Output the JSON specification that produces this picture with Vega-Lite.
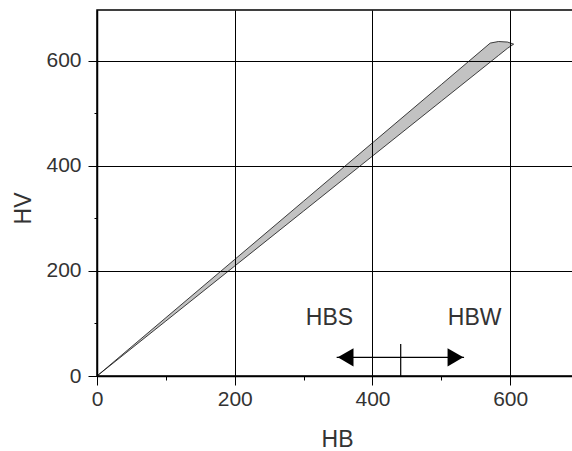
{
  "$schema": "https://vega.github.io/schema/vega-lite/v6.json",
  "width": 480,
  "height": 366,
  "autosize": "none",
  "padding": {"left": 97, "top": 10, "right": 0, "bottom": 75},
  "background": "white",
  "config": {
    "view": {"stroke": "#000", "strokeWidth": 1.5},
    "font": "Liberation Sans"
  },
  "datasets": {
    "band": [
      {"hb": 0, "upper": 0, "lower": 0},
      {"hb": 100, "upper": 111, "lower": 104.7},
      {"hb": 200, "upper": 222, "lower": 209.4},
      {"hb": 300, "upper": 333, "lower": 314.1},
      {"hb": 400, "upper": 444, "lower": 418.8},
      {"hb": 500, "upper": 555, "lower": 523.5},
      {"hb": 571, "upper": 634, "lower": 597.8},
      {"hb": 583, "upper": 637, "lower": 610.4},
      {"hb": 596, "upper": 636, "lower": 624},
      {"hb": 605, "upper": 632, "lower": 632}
    ],
    "arrow": [{"from": 348, "to": 533, "level": 35.6}],
    "marker": [{"at": 441, "bottom": 0, "top": 61}],
    "heads": [
      {"hb": 361, "hv": 35.6, "dir": "left"},
      {"hb": 520.5, "hv": 35.6, "dir": "right"}
    ],
    "labels": [
      {"hb": 337.6, "hv": 97, "label": "HBS"},
      {"hb": 548.3, "hv": 97, "label": "HBW"}
    ]
  },
  "layer": [
    {
      "data": {"name": "band"},
      "mark": {"type": "area", "fill": "#c2c2c2", "fillOpacity": 1, "stroke": "#111", "strokeWidth": 0.8},
      "encoding": {
        "x": {
          "field": "hb", "type": "quantitative",
          "scale": {"domain": [0, 697], "nice": false, "zero": false},
          "axis": {
            "title": "HB", "values": [0, 200, 400, 600], "grid": true, "gridColor": "#000", "gridWidth": 1, "gridOpacity": 1,
            "tickSize": 9, "tickColor": "#000", "tickWidth": 1, "domainColor": "#000", "domainWidth": 1.5,
            "labelFont": "Liberation Sans", "labelFontSize": 21, "labelColor": "#333", "labelPadding": 3,
            "labelFlush": false, "labelOverlap": false,
            "titleFont": "Liberation Sans", "titleFontSize": 23, "titleFontWeight": "normal", "titleColor": "#333",
            "titleX": 240, "titleY": 70, "titleBaseline": "alphabetic", "titleAlign": "center", "zindex": 1
          }
        },
        "y": {
          "field": "upper", "type": "quantitative",
          "scale": {"domain": [0, 697], "nice": false, "zero": false},
          "axis": {
            "title": "HV", "values": [0, 200, 400, 600], "grid": true, "gridColor": "#000", "gridWidth": 1, "gridOpacity": 1,
            "tickSize": 9, "tickColor": "#000", "tickWidth": 1, "domainColor": "#000", "domainWidth": 1.5,
            "labelFont": "Liberation Sans", "labelFontSize": 21, "labelColor": "#333", "labelPadding": 7,
            "labelFlush": false, "labelOverlap": false,
            "titleFont": "Liberation Sans", "titleFontSize": 23, "titleFontWeight": "normal", "titleColor": "#333",
            "titleX": -67, "titleY": 198, "titleBaseline": "alphabetic", "titleAlign": "center", "titleAngle": -90, "zindex": 1
          }
        },
        "y2": {"field": "lower"}
      }
    },
    {
      "data": {"name": "arrow"},
      "mark": {"type": "rule", "color": "#000", "strokeWidth": 1.3},
      "encoding": {
        "x": {
          "field": "from", "type": "quantitative",
          "axis": {"orient": "bottom", "values": [100, 300, 500], "tickSize": 4, "tickColor": "#000", "tickWidth": 1, "labels": false, "domain": false, "grid": false, "title": null, "zindex": 1}
        },
        "x2": {"field": "to"},
        "y": {
          "field": "level", "type": "quantitative",
          "axis": {"orient": "left", "values": [100, 300, 500], "tickSize": 3, "tickColor": "#000", "tickWidth": 1, "labels": false, "domain": false, "grid": false, "title": null, "zindex": 1}
        }
      }
    },
    {
      "data": {"name": "marker"},
      "mark": {"type": "rule", "color": "#000", "strokeWidth": 1.2},
      "encoding": {
        "x": {"field": "at", "type": "quantitative", "axis": null},
        "y": {"field": "bottom", "type": "quantitative", "axis": null},
        "y2": {"field": "top"}
      }
    },
    {
      "data": {"name": "heads"},
      "mark": {"type": "point", "filled": true, "color": "#000", "opacity": 1, "size": 330},
      "encoding": {
        "x": {"field": "hb", "type": "quantitative", "axis": null},
        "y": {"field": "hv", "type": "quantitative", "axis": null},
        "shape": {"field": "dir", "type": "nominal", "scale": {"domain": ["left", "right"], "range": ["triangle-left", "triangle-right"]}, "legend": null}
      }
    },
    {
      "data": {"name": "labels"},
      "mark": {"type": "text", "font": "Liberation Sans", "fontSize": 23, "color": "#333", "align": "center", "baseline": "alphabetic"},
      "encoding": {
        "x": {"field": "hb", "type": "quantitative", "axis": null},
        "y": {"field": "hv", "type": "quantitative", "axis": null},
        "text": {"field": "label"}
      }
    }
  ],
  "resolve": {"axis": {"x": "independent", "y": "independent"}}
}
